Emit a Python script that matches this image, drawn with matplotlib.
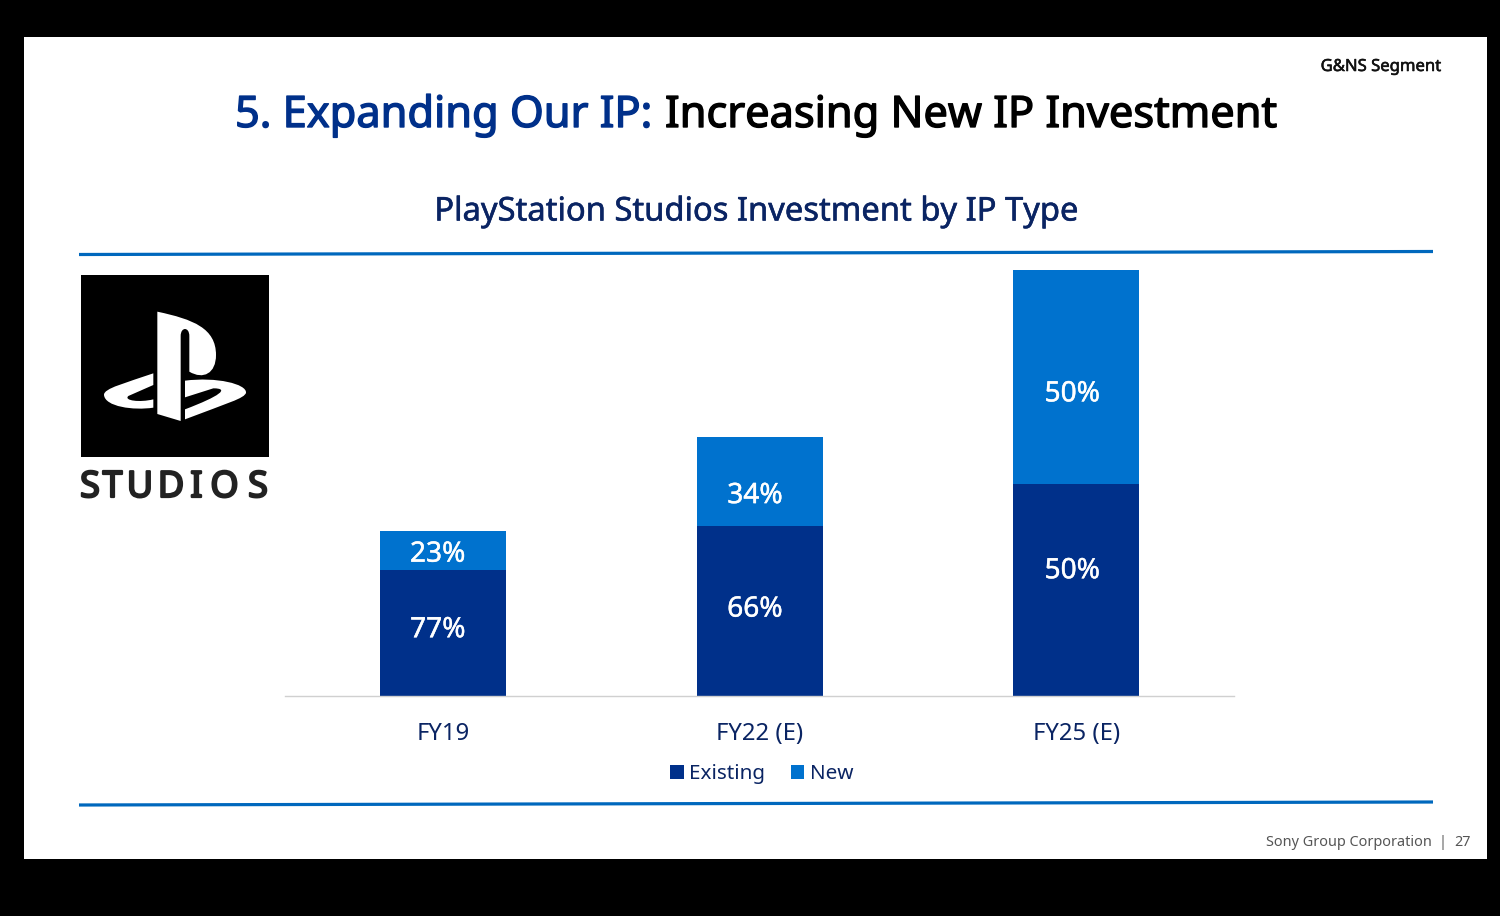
import matplotlib
matplotlib.use("Agg")
import matplotlib.pyplot as plt
import matplotlib.patheffects as pe
from matplotlib.patches import Rectangle, PathPatch
from matplotlib.path import Path

plt.rcParams['font.family'] = ['Noto Sans', 'DejaVu Sans']

# bar heights
categories = ['FY19', 'FY22 (E)', 'FY25 (E)']
existing = [126, 170, 212]
new = [39, 89, 214]
existing_labels = ['77%', '66%', '50%']
new_labels = ['23%', '34%', '50%']

DARK = '#00308a'
BLUE = '#0072ce'
NAVY = '#0a2463'
W, H = 1500, 916


def px_x(x):
    return x / W


def px_y(y):
    return 1 - y / H


def heavy(color, lw):
    # the slide font is semibold, thicken the regular weight a bit
    return [pe.withStroke(linewidth=lw, foreground=color)]


fig = plt.figure(figsize=(15, 9.16), dpi=100, facecolor='black')

# background layer, coords are pixels of the slide
bg = fig.add_axes([0, 0, 1, 1])
bg.set_xlim(0, W)
bg.set_ylim(H, 0)
bg.axis('off')
bg.add_patch(Rectangle((24, 37), 1463, 822, color='white', lw=0))

# header
bg.text(1441, 67, 'G&NS Segment', fontsize=12, color='#111111', ha='right', va='center', path_effects=heavy('#111111', 0.4))
bg.text(235, 116, '5. Expanding Our IP:', fontsize=31.2, color=DARK, ha='left', va='center', path_effects=heavy(DARK, 1.0))
bg.text(665, 116, 'Increasing New IP Investment', fontsize=31.2, color='black', ha='left', va='center', path_effects=heavy('black', 1.0))
bg.text(755.5, 212, 'PlayStation Studios Investment by IP Type', fontsize=23.55, color=NAVY, ha='center', va='center', path_effects=heavy(NAVY, 0.4))

# blue rules, slightly tilted on the slide
bg.plot([79, 1433], [254.5, 251.5], color='#0068bd', lw=2.3, solid_capstyle='butt')
bg.plot([79, 1433], [805, 802], color='#0068bd', lw=2.3, solid_capstyle='butt')

# footer
bg.text(1432, 842, 'Sony Group Corporation', fontsize=10.4, color='#555555', ha='right', va='center')
bg.text(1442, 842, '|', fontsize=10.4, color='#555555', ha='center', va='center')
bg.text(1471, 842, '27', fontsize=10.4, color='#555555', ha='right', va='center')

# logo
bg.add_patch(Rectangle((81, 275), 188, 182, color='black', lw=0))
studios_x = [90, 112.5, 140, 171, 196.5, 224.5, 258]
for letter, lx in zip('STUDIOS', studios_x):
    bg.text(lx, 497, letter, fontsize=26, color='#222222', ha='center', va='baseline', path_effects=heavy('#222222', 1.6))


def zoom_path(verts, codes):
    return Path([(60 + x / 3, 260 + y / 3) for x, y in verts], codes)


M, L, C, Z = Path.MOVETO, Path.LINETO, Path.CURVE4, Path.CLOSEPOLY
p_verts = [(292, 155), (400, 178), (468, 205), (468, 285), (468, 340), (430, 360), (388, 335),
           (388, 228), (388, 200), (362, 200), (362, 228), (362, 483), (292, 462), (292, 155)]
p_codes = [M, C, C, C, C, C, C, L, C, C, C, L, L, Z]
left_verts = [(280, 340), (200, 368), (130, 385), (132, 405), (135, 440), (220, 452), (280, 443),
              (280, 418), (240, 428), (190, 422), (205, 408), (280, 375), (280, 340)]
left_codes = [M, C, C, C, C, C, C, L, C, C, C, L, Z]
right_verts = [(375, 362), (470, 350), (560, 372), (558, 398), (555, 415), (500, 430), (375, 478),
               (375, 448), (480, 408), (510, 385), (460, 385), (375, 412), (375, 362)]
right_codes = [M, C, C, C, C, C, C, L, C, C, C, L, Z]
for verts, codes in [(p_verts, p_codes), (left_verts, left_codes), (right_verts, right_codes)]:
    bg.add_patch(PathPatch(zoom_path(verts, codes), facecolor='white', edgecolor='none'))

# chart
ax = fig.add_axes([px_x(285), px_y(696), (1234 - 285) / W, (696 - 270) / H])
ax.patch.set_alpha(0)
x = range(len(categories))
b1 = ax.bar(x, existing, width=0.398, color=DARK, label='Existing')
b2 = ax.bar(x, new, width=0.398, bottom=existing, color=BLUE, label='New')
ax.set_xlim(-0.5, 2.498)
ax.set_ylim(0, 426)
ax.set_yticks([])
ax.set_xticks(list(x))
ax.set_xticklabels(categories, fontsize=17.2, color=NAVY)
ax.tick_params(axis='x', length=0, pad=19)
for s in ['top', 'left', 'right']:
    ax.spines[s].set_visible(False)
ax.spines['bottom'].set_color('#d0d0d0')
ax.spines['bottom'].set_linewidth(1)

# the labels sit off the segment centres on the slide
existing_offset = [(-4, 2), (-3.5, 1), (-3, 13.5)]
new_offset = [(-4, -3), (-3.5, -10.5), (-3, -12.5)]
for i in x:
    ax.annotate(existing_labels[i], (i, existing[i] / 2), xytext=existing_offset[i], textcoords='offset points',
                ha='center', va='center', color='white', fontsize=20.2, path_effects=heavy('white', 0.3))
    ax.annotate(new_labels[i], (i, existing[i] + new[i] / 2), xytext=new_offset[i], textcoords='offset points',
                ha='center', va='center', color='white', fontsize=20.2, path_effects=heavy('white', 0.3))

leg = ax.legend(handles=[b1, b2], ncol=2, frameon=False, fontsize=14.9, labelcolor=NAVY,
                loc='center', bbox_to_anchor=(px_x(761.5), px_y(774)), bbox_transform=fig.transFigure,
                handlelength=0.66, handleheight=0.66, handletextpad=0.25, columnspacing=1.25,
                borderpad=0, borderaxespad=0)

fig.savefig('out.png', dpi=100, facecolor=fig.get_facecolor())
